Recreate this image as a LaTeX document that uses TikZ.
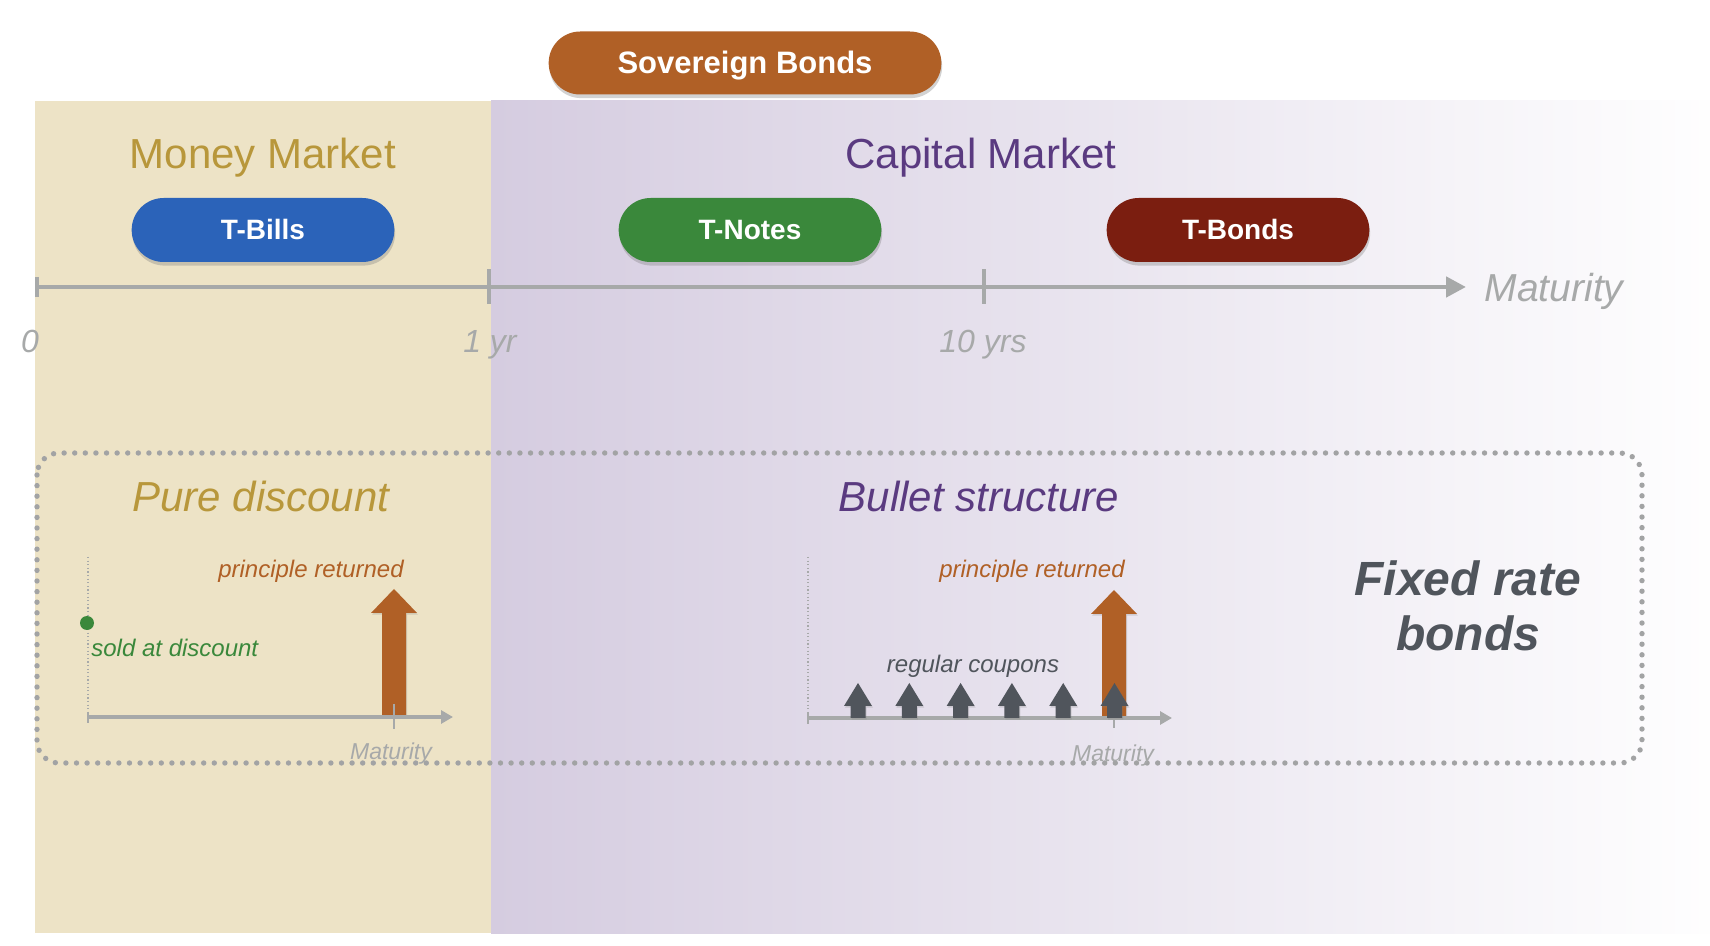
\documentclass[tikz,border=0pt]{standalone}
\usepackage{fontspec}
\setmainfont{Liberation Sans}
\usetikzlibrary{arrows.meta, positioning, shapes.misc, shadows}

\definecolor{mmbeige}{HTML}{EDE3C6}
\definecolor{cmlilac}{HTML}{D5CCE0}
\definecolor{mmgold}{HTML}{B8973B}
\definecolor{cmpurple}{HTML}{5A3A80}
\definecolor{axisgrey}{HTML}{A7A9A9}
\definecolor{boxgrey}{HTML}{A2A3A4}
\definecolor{sovorange}{HTML}{B06026}
\definecolor{billblue}{HTML}{2B63B9}
\definecolor{notegreen}{HTML}{3A883B}
\definecolor{bondred}{HTML}{7B1E10}
\definecolor{coupongrey}{HTML}{50555C}

\tikzset{
  pill/.style={rounded rectangle, fill=#1, text=white,
    font=\fontsize{14}{16}\selectfont\bfseries,
    minimum width=138pt, minimum height=32pt, text height=0.95em, text depth=0pt,
    drop shadow={opacity=0.35, shadow xshift=0.4pt, shadow yshift=-1.8pt}},
  title/.style={anchor=base, inner sep=0pt, font=\fontsize{21}{25}\selectfont},
  axislabel/.style={anchor=base, inner sep=0pt, text=axisgrey, font=\fontsize{16}{19}\selectfont\itshape},
  flowlabel/.style={anchor=base, inner sep=0pt, font=\fontsize{12}{14}\selectfont\itshape},
  axisline/.style={axisgrey, line width=2.35pt},
  minaxis/.style={axisgrey, line width=1.6pt},
  guide/.style={axisgrey, line width=0.6pt, dash pattern=on 0.6pt off 1.2pt}
}

% arrow of the principal paid back at maturity
\newcommand{\principalup}[1]{%
  \fill[sovorange, drop shadow={opacity=0.25, shadow xshift=0.5pt, shadow yshift=-0.8pt}]
    ([shift={(-12,0)}]#1) -- ++(0,-104) -- ++(-11,0) -- ++(23,-24) -- ++(23,24)
    -- ++(-11,0) -- ++(0,104) -- cycle;}
% arrow of one coupon
\newcommand{\couponup}[1]{%
  \fill[coupongrey, drop shadow={opacity=0.25, shadow xshift=0.5pt, shadow yshift=-0.8pt}]
    ([shift={(-7.5,0)}]#1) -- ++(0,-12) -- ++(-6.5,0) -- ++(14,-23) -- ++(14,23)
    -- ++(-6.5,0) -- ++(0,12) -- cycle;}

\begin{document}
\begin{tikzpicture}[x=0.5pt, y=-0.5pt, >=Triangle]
  \useasboundingbox (0,0) rectangle (1710,946);
  \fill[white] (0,0) rectangle (1710,946);
  % --- market areas ---
  \fill[mmbeige] (35,101) rectangle (491,933);
  \shade[left color=cmlilac, right color=white!98!cmlilac] (491,101) rectangle (1710,933);
  \node[title, text=mmgold] (mm) at (263,169) {Money Market};
  \node[title, text=cmpurple] (cm) at (981,169) {Capital Market};
  \node[pill=sovorange, minimum width=203pt, minimum height=31.5pt, text height=1.05em,
        font=\fontsize{15.5}{18}\selectfont\bfseries] (sov) at (745,63) {Sovereign Bonds};
  \node[pill=billblue] (tbills) at (263,230) {T-Bills};
  \node[pill=notegreen] (tnotes) at (750,230) {T-Notes};
  \node[pill=bondred] (tbonds) at (1238,230) {T-Bonds};

  % --- maturity axis ---
  \coordinate (ax0) at (37,287);
  \coordinate (t1) at (489,287);
  \coordinate (t10) at (984,287);
  \coordinate (axend) at (1466,287);
  \draw[axisline, -{Triangle[length=10pt,width=10pt]}] (ax0) -- (axend);
  \draw[axisline] ([yshift=5pt]ax0) -- ([yshift=-5pt]ax0);
  \draw[axisline] ([yshift=8.75pt]t1) -- ([yshift=-8.75pt]t1);
  \draw[axisline] ([yshift=8.75pt]t10) -- ([yshift=-8.75pt]t10);
  \node[anchor=base, inner sep=0pt, text=axisgrey, font=\fontsize{19.5}{23}\selectfont\itshape]
    (mat) at (1554,302) {Maturity};
  \node[axislabel] (l0) at (30,353) {0};
  \node[axislabel] (l1) at (490,353) {1 yr};
  \node[axislabel] (l10) at (983,353) {10 yrs};

  % --- fixed rate bonds ---
  \draw[boxgrey, line width=2.7pt, line cap=round, dash pattern=on 0pt off 5.3pt,
        rounded corners=11pt] (37,453) rectangle (1642,763);
  \node[title, font=\fontsize{21}{25}\selectfont\itshape, text=mmgold] (pd) at (261,512) {Pure discount};
  \node[title, font=\fontsize{21}{25}\selectfont\itshape, text=cmpurple] (bs) at (979,512) {Bullet structure};
  \node[anchor=base, align=center, inner sep=0pt, text=coupongrey,
        font=\fontsize{24}{27.5}\selectfont\bfseries\itshape] (frb) at (1468,651) {Fixed rate\\bonds};

  % --- pure discount cash flows ---
  \coordinate (lorig) at (88,717);
  \coordinate (ltop) at (88,557);
  \coordinate (lmat) at (394,717);
  \coordinate (lend) at (453,717);
  \draw[guide] (ltop) -- (lorig);
  \principalup{lmat}
  \draw[minaxis, -{Triangle[length=6pt,width=6.5pt]}] (lorig) -- (lend);
  \draw[axisgrey, line width=1.3pt] ([yshift=2.5pt]lorig) -- ([yshift=-3pt]lorig);
  \draw[axisgrey, line width=0.8pt] ([yshift=6.5pt]lmat) -- ([yshift=-6pt]lmat);
  \node[circle, fill=notegreen, inner sep=0pt, minimum size=7pt] (sold) at (87,623) {};
  \node[flowlabel, anchor=base west, text=notegreen] (soldlbl) at (91,657) {sold at discount};
  \node[flowlabel, text=sovorange] (lret) at (311,578) {principle returned};
  \node[flowlabel, font=\fontsize{11.5}{14}\selectfont\itshape, text=axisgrey] (lmatlbl) at (391,760) {Maturity};

  % --- bullet cash flows ---
  \coordinate (rorig) at (808,718);
  \coordinate (rtop) at (808,557);
  \coordinate (rmat) at (1114,718);
  \coordinate (rend) at (1172,718);
  \draw[guide] (rtop) -- (rorig);
  \principalup{rmat}
  \draw[minaxis, -{Triangle[length=6pt,width=6.5pt]}] (rorig) -- (rend);
  \draw[axisgrey, line width=1.3pt] ([yshift=2.5pt]rorig) -- ([yshift=-3pt]rorig);
  \draw[axisgrey, line width=0.8pt] ([yshift=2.5pt]rmat) -- ([yshift=-5pt]rmat);
  \foreach \i in {0,...,5} {
    \coordinate (cp\i) at (858+51.3*\i,718);
    \couponup{cp\i}
  }
  \node[flowlabel, text=coupongrey] (coup) at (973,673) {regular coupons};
  \node[flowlabel, text=sovorange] (rret) at (1032,578) {principle returned};
  \node[flowlabel, font=\fontsize{11.5}{14}\selectfont\itshape, text=axisgrey] (rmatlbl) at (1113,762) {Maturity};
\end{tikzpicture}
\end{document}
